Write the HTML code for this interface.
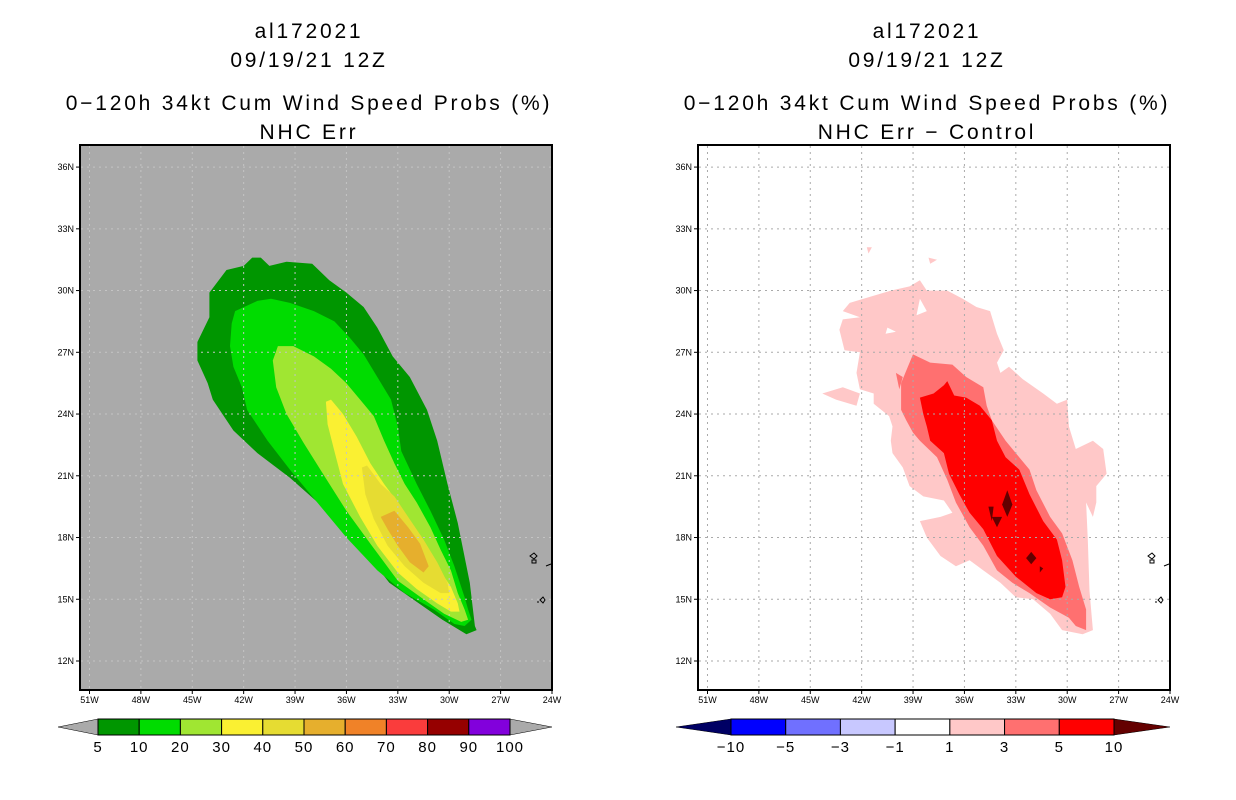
<!DOCTYPE html>
<html><head><meta charset="utf-8">
<style>
html,body{margin:0;padding:0;background:#fff;}
svg{display:block;font-family:"Liberation Sans",sans-serif;}
.t{font-size:21px;text-anchor:middle;fill:#000;letter-spacing:2.8px;}
.tk{font-size:9px;fill:#000;}
.cb{font-size:15px;text-anchor:middle;fill:#000;letter-spacing:1px;}
</style></head>
<body>
<svg id="chart" width="1236" height="800" viewBox="0 0 1236 800">
<g id="left"></g>
<g id="right"></g>
</svg>
<script>
// ---- axis data ----
const lonTicks = [51,48,45,42,39,36,33,30,27,24];
const latTicks = [36,33,30,27,24,21,18,15,12];
const leftLevels = ['5','10','20','30','40','50','60','70','80','90','100'];
const leftColors = ['#009600','#00dc00','#a0e632','#faf032','#e6dc32','#e6af2d','#f08228','#fa3c3c','#960000','#8200dc'];
const rightLevels = ['\u221210','\u22125','\u22123','\u22121','1','3','5','10'];
const rightColors = ['#0000ff','#7070ff','#c8c8ff','#ffffff','#ffc8c8','#ff7070','#ff0000'];

// contour polygons as [lonW, latN] pairs
const p5 = [[41.5,31.6],[41.0,31.6],[40.5,31.2],[39.5,31.4],[38.0,31.3],[37.0,30.5],[36.0,29.9],[35.0,29.2],[34.2,28.2],[33.3,26.8],[32.3,25.8],[31.3,24.2],[30.7,22.7],[30.1,20.6],[29.5,18.7],[28.8,15.8],[28.5,13.7],[28.4,13.5],[29.0,13.3],[30.4,14.0],[33.5,15.8],[35.0,17.4],[37.4,19.5],[39.3,20.9],[41.2,22.1],[42.6,23.2],[43.8,24.7],[44.1,25.5],[44.7,26.6],[44.7,27.5],[44.0,28.7],[44.0,29.9],[43.0,31.0],[42.0,31.2]];
const p10 = [[42.5,29.0],[41.2,29.5],[40.4,29.6],[39.3,29.4],[37.9,29.0],[36.7,28.5],[35.8,27.7],[35.0,26.9],[34.2,25.8],[33.4,24.7],[33.0,23.4],[32.8,22.2],[31.9,20.6],[31.1,19.3],[30.3,17.9],[29.7,16.6],[29.1,15.1],[28.9,14.5],[28.7,14.0],[29.1,13.7],[29.7,13.8],[30.9,14.5],[32.6,15.3],[34.2,16.4],[36.0,18.0],[37.7,19.7],[39.3,21.3],[40.6,22.7],[41.8,24.2],[42.1,25.3],[42.6,26.3],[42.8,27.3],[42.7,28.4]];
const p20 = [[40.3,26.6],[40.0,27.3],[39.1,27.3],[37.9,26.8],[36.9,26.2],[36.0,25.5],[35.2,24.7],[34.4,23.9],[33.8,22.7],[33.2,21.6],[32.6,20.6],[31.9,19.7],[31.1,18.5],[30.5,17.4],[29.9,16.4],[29.5,15.3],[29.1,14.5],[28.9,14.0],[29.3,13.9],[30.3,14.3],[31.5,15.0],[33.0,15.9],[34.6,17.7],[36.0,19.3],[37.3,21.0],[38.5,22.6],[39.5,24.0],[40.1,25.3]];
const p30 = [[37.2,24.6],[36.9,24.7],[36.2,24.0],[35.4,22.9],[34.6,21.6],[33.8,20.6],[33.0,19.7],[32.3,18.5],[31.5,17.6],[30.7,16.6],[29.9,15.6],[29.5,14.8],[29.4,14.4],[29.9,14.4],[30.7,14.8],[31.9,15.5],[33.0,16.3],[34.2,17.6],[35.2,19.0],[36.2,20.6],[36.7,22.2],[37.1,23.5]];
const p40 = [[35.1,21.4],[34.8,21.5],[34.0,20.6],[33.2,20.0],[32.4,19.0],[31.5,17.9],[30.7,16.8],[30.1,15.8],[30.0,15.3],[30.5,15.3],[31.5,15.8],[32.6,16.6],[33.6,17.6],[34.4,18.9],[34.9,20.1]];
const p50 = [[34.0,19.0],[33.2,19.3],[32.4,18.5],[31.7,17.7],[31.2,16.6],[31.5,16.3],[32.3,16.8],[33.0,17.6],[33.6,18.4]];

const d1 = [[43.1,29.0],[42.7,29.4],[41.5,29.7],[40.3,30.0],[39.2,30.2],[38.6,30.5],[38.2,30.0],[37.0,30.0],[36.1,29.6],[35.3,29.2],[34.5,29.0],[34.1,27.9],[33.7,27.1],[34.1,26.5],[33.9,26.0],[33.4,26.3],[32.6,25.7],[31.4,25.0],[30.6,24.5],[30.0,24.7],[29.9,23.4],[29.5,22.3],[28.5,22.7],[27.9,22.3],[27.7,21.1],[28.3,20.5],[28.3,19.7],[28.5,19.0],[28.9,19.7],[28.8,17.9],[28.7,15.4],[28.5,13.5],[29.1,13.3],[30.3,13.5],[31.0,14.3],[32.0,15.0],[33.0,15.1],[33.9,15.8],[34.9,16.4],[35.7,16.9],[36.5,16.6],[37.4,17.1],[38.2,18.0],[38.6,18.8],[37.4,19.0],[36.7,19.2],[37.2,19.8],[38.4,20.0],[39.2,20.5],[39.6,21.4],[40.2,22.1],[40.3,22.7],[40.2,23.4],[40.4,23.9],[41.3,24.5],[41.3,25.0],[42.1,25.2],[42.3,26.0],[42.1,27.0],[43.0,27.1],[43.3,28.1],[43.1,28.6],[42.1,28.7]];
const d1b = [[44.3,25.0],[43.1,25.3],[42.1,25.0],[42.3,24.4],[43.5,24.7]];
const d1c = [[41.7,32.1],[41.4,32.1],[41.6,31.8]];
const d1d = [[38.1,31.6],[37.6,31.5],[38.0,31.3]];
const hole1 = [[38.6,29.6],[38.2,29.0],[38.8,28.8]];
const hole2 = [[40.5,28.2],[40.0,28.0],[40.6,27.9]];
const d3 = [[39.0,26.9],[38.0,26.5],[36.7,26.4],[35.9,25.8],[34.9,25.3],[34.7,24.4],[34.4,23.7],[33.6,22.7],[33.0,22.1],[32.2,21.3],[31.8,20.3],[31.0,19.0],[30.3,18.2],[29.7,16.9],[29.3,15.6],[28.9,14.5],[28.9,13.5],[29.5,13.7],[29.9,14.1],[31.0,14.6],[32.2,15.3],[33.2,15.8],[34.1,16.4],[34.9,17.6],[35.7,18.5],[36.5,19.7],[37.0,20.8],[37.6,21.9],[38.6,22.7],[39.0,23.1],[39.4,23.7],[39.7,24.2],[39.7,25.5],[39.4,26.1]];
const d3b = [[40.0,26.0],[39.6,25.8],[39.8,25.2]];
const d5 = [[38.6,24.8],[37.8,25.0],[37.2,25.4],[37.0,25.6],[36.6,24.9],[35.9,24.8],[35.1,24.4],[34.4,23.7],[34.1,22.7],[33.6,21.9],[32.8,21.3],[32.2,20.1],[31.4,18.8],[30.6,17.9],[30.3,16.9],[30.1,15.6],[30.3,15.1],[31.0,15.0],[31.8,15.3],[33.0,16.1],[34.1,17.1],[34.9,18.4],[35.7,19.2],[36.3,20.1],[36.9,21.1],[37.2,22.1],[38.0,22.7],[38.2,23.4],[38.4,24.0]];
const d10a = [[33.5,20.3],[33.2,19.6],[33.5,19.0],[33.8,19.6]];
const d10b = [[34.4,19.0],[33.8,19.0],[34.1,18.5]];
const d10c = [[32.1,17.3],[31.8,17.0],[32.1,16.7],[32.4,17.0]];
const d10d = [[34.6,19.5],[34.3,19.5],[34.4,18.8]];
const d10e = [[31.6,16.6],[31.4,16.5],[31.6,16.3]];

const NS='http://www.w3.org/2000/svg';
function mk(tag, attrs, parent){const e=document.createElementNS(NS,tag);for(const k in attrs)e.setAttribute(k,attrs[k]);parent.appendChild(e);return e;}
function xs(off){return lon=>552+off-(lon-24)*17.13;}
function ys(lat){return 661-(lat-12)*20.58;}
function poly(parent,pts,fill,off,name){
  const X=xs(off);
  const e=mk('polygon',{points:pts.map(p=>X(p[0]).toFixed(1)+','+ys(p[1]).toFixed(1)).join(' '),fill:fill},parent);
  
  
  return e;
}
function panel(g,off,bg,titleLine2,layers,gridCol){
  const cx=off+309, X=xs(off);
  const titles=['al172021','09/19/21 12Z','0\u2212120h 34kt Cum Wind Speed Probs (%)',titleLine2];
  const ty=[38,67,110,139];
  titles.forEach((s,i)=>{const t=mk('text',{x:cx,y:ty[i],class:'t'},g);t.textContent=s;
    
    });
  const bgR=mk('rect',{x:80+off,y:145,width:472,height:545,fill:bg},g);
  
  
  layers.forEach(l=>poly(g,l[0],l[1],off,l[2]));
  lonTicks.forEach(l=>{const x=X(l);if(x<80+off+2||x>550+off)return;
    const e=mk('line',{x1:x,y1:146,x2:x,y2:689,stroke:gridCol,'stroke-width':1,'stroke-dasharray':'2,4'},g);
    
    });
  latTicks.forEach(l=>{const y=ys(l);
    const e=mk('line',{x1:81+off,y1:y,x2:551+off,y2:y,stroke:gridCol,'stroke-width':1,'stroke-dasharray':'2,4'},g);
    
    });
  const isl=mk('path',{d:`M${530+off} 556 l4 -3 l3 3 l-3 3 z M${532+off} 560 h4 v3 h-4 z M${546+off} 566 l5 -2 M${540+off} 600 l3 -3 l2 3 l-2 3 z M${537+off} 602 h2`,fill:'none',stroke:'#000','stroke-width':1},g);
  
  
  const fr=mk('rect',{x:80+off,y:145,width:472,height:545,fill:'none',stroke:'#000','stroke-width':2},g);
  
  
  latTicks.forEach(l=>{const y=ys(l);
    const tk=mk('line',{x1:76+off,y1:y,x2:80+off,y2:y,stroke:'#000'},g);
    
    
    const t=mk('text',{x:74+off,y:y+3,class:'tk','text-anchor':'end'},g);t.textContent=l+'N';
    
    });
  lonTicks.forEach(l=>{const x=X(l);
    const tk=mk('line',{x1:x,y1:690,x2:x,y2:694,stroke:'#000'},g);
    
    
    const t=mk('text',{x:x,y:703,class:'tk','text-anchor':'middle'},g);t.textContent=l+'W';
    
    });
}
function colorbar(g,x0,x1,tipL,tipR,colors,labels,lcol,rcol){
  const y0=719,y1=735,ym=727,w=(x1-x0)/colors.length;
  const a=mk('polygon',{points:`${tipL},${ym} ${x0},${y0} ${x0},${y1}`,fill:lcol,stroke:'#000','stroke-width':0.5},g);
  
  
  const b=mk('polygon',{points:`${tipR},${ym} ${x1},${y0} ${x1},${y1}`,fill:rcol,stroke:'#000','stroke-width':0.5},g);
  
  
  colors.forEach((c,i)=>{const r=mk('rect',{x:x0+i*w,y:y0,width:w,height:y1-y0,fill:c,stroke:'#000','stroke-width':1},g);
    
    });
  labels.forEach((s,i)=>{const t=mk('text',{x:x0+i*w,y:752,class:'cb'},g);t.textContent=s;
    
    });
}
const L=document.getElementById('left'), R=document.getElementById('right');
panel(L,0,'#aaaaaa','NHC Err',[[p5,leftColors[0],'contour-5'],[p10,leftColors[1],'contour-10'],[p20,leftColors[2],'contour-20'],[p30,leftColors[3],'contour-30'],[p40,leftColors[4],'contour-40'],[p50,leftColors[5],'contour-50']],'#c4c4c4');
panel(R,618,'#ffffff','NHC Err \u2212 Control',[[d1,rightColors[4],'diff-1'],[d1b,rightColors[4],'diff-1-patch'],[d1c,rightColors[4],'diff-1-patch'],[d1d,rightColors[4],'diff-1-patch'],[hole1,'#ffffff','diff-hole'],[hole2,'#ffffff','diff-hole'],[d3,rightColors[5],'diff-3'],[d3b,rightColors[5],'diff-3-patch'],[d5,rightColors[6],'diff-5'],[d10a,'#640000','diff-10'],[d10b,'#640000','diff-10'],[d10c,'#640000','diff-10'],[d10d,'#640000','diff-10'],[d10e,'#640000','diff-10']],'#aaaaaa');
const cbL=mk('g',{},L);
colorbar(cbL,98,510,58,552,leftColors,leftLevels,'#aaaaaa','#aaaaaa');
const cbR=mk('g',{},R);
colorbar(cbR,731,1114,676,1170,rightColors,rightLevels,'#000064','#640000');
</script>
</body></html>
